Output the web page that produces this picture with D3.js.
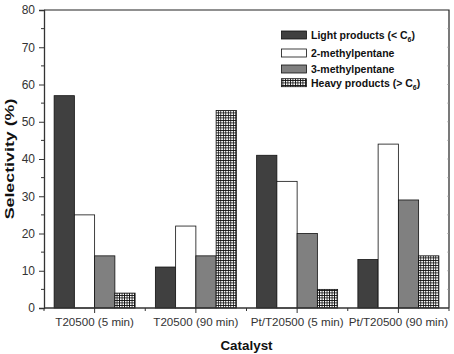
<!DOCTYPE html>
<html>
<head>
<meta charset="utf-8">
<script src="https://cdn.jsdelivr.net/npm/d3@7"></script>
<style>
  body { margin: 0; background: #fff; }
  text { font-family: "Liberation Sans", Arial, sans-serif; }
</style>
</head>
<body>
<div id="chart"></div>
<script>
// data
const catalysts = ['T20500 (5 min)', 'T20500 (90 min)', 'Pt/T20500 (5 min)', 'Pt/T20500 (90 min)'];
const seriesNames = ['light', 'mp2', 'mp3', 'heavy'];
const lightProducts = [57, 11, 41, 13];
const methylpentane2 = [25, 22, 34, 44];
const methylpentane3 = [14, 14, 20, 29];
const heavyProducts = [4, 53, 5, 14];
const yTicks = [0, 10, 20, 30, 40, 50, 60, 70, 80];

const seriesValues = [lightProducts, methylpentane2, methylpentane3, heavyProducts];

const w = 454;
const h = 354;
const margin = { top: 10, right: 5, bottom: 46, left: 44 };

const svg = d3.select('#chart')
  .append('svg')
  .attr('width', w)
  .attr('height', h);

// crosshatch pattern for heavy products
const defs = svg.append('defs');
const pat = defs.append('pattern')
  .attr('id', 'hatch')
  .attr('patternUnits', 'userSpaceOnUse')
  .attr('width', 2.5)
  .attr('height', 2.5);
pat.append('rect').attr('width', 2.5).attr('height', 2.5).attr('fill', '#fff');
pat.append('path')
  .attr('d', 'M0,0.4H2.5M0.4,0V2.5')
  .attr('stroke', '#111')
  .attr('stroke-width', 0.9);

const fills = ['#404040', '#ffffff', '#808080', 'url(#hatch)'];

const x0 = d3.scaleBand()
  .domain(catalysts)
  .range([margin.left, w - margin.right])
  .paddingInner(0.2)
  .paddingOuter(0.1);

const x1 = d3.scaleBand()
  .domain(seriesNames)
  .range([0, x0.bandwidth()]);

const y = d3.scaleLinear()
  .domain([0, 80])
  .range([h - margin.bottom, margin.top]);

// bars
const groups = svg.selectAll('g.group')
  .data(catalysts)
  .enter()
  .append('g')
  .attr('class', 'group')
  .attr('transform', d => 'translate(' + x0(d) + ',0)');

groups.selectAll('rect')
  .data((d, i) => seriesNames.map((s, j) => ({ s: s, v: seriesValues[j][i], j: j })))
  .enter()
  .append('rect')
  .attr('x', d => x1(d.s))
  .attr('y', d => y(d.v))
  .attr('width', x1.bandwidth())
  .attr('height', d => y(0) - y(d.v))
  .attr('fill', d => fills[d.j])
  .attr('stroke', '#111')
  .attr('stroke-width', 0.8);

// frame (top and right)
const plotLeft = margin.left;
const plotRight = w - margin.right;
const plotTop = margin.top;
const plotBottom = h - margin.bottom;

svg.append('path')
  .attr('d', 'M' + plotLeft + ',' + plotTop + 'H' + plotRight + 'V' + plotBottom)
  .attr('fill', 'none')
  .attr('stroke', '#222')
  .attr('stroke-width', 1.2);

// y axis
const yAxis = d3.axisLeft(y)
  .tickValues(yTicks)
  .tickSize(5)
  .tickPadding(4)
  .tickFormat(d3.format('d'));

const gy = svg.append('g')
  .attr('transform', 'translate(' + plotLeft + ',0)')
  .call(yAxis);
gy.select('.domain').attr('stroke', '#333').attr('stroke-width', 1.3);
gy.selectAll('.tick line').attr('stroke', '#333');
gy.selectAll('.tick text').attr('font-size', 12).attr('fill', '#333')
  .style('font-family', '"Liberation Sans", Arial, sans-serif');

// minor y ticks
svg.selectAll('line.yminor')
  .data(d3.range(5, 80, 10))
  .enter()
  .append('line')
  .attr('x1', plotLeft - 3)
  .attr('x2', plotLeft)
  .attr('y1', d => y(d))
  .attr('y2', d => y(d))
  .attr('stroke', '#333');

// faint inner ticks on right
svg.selectAll('line.yright')
  .data(d3.range(5, 80, 5))
  .enter()
  .append('line')
  .attr('x1', plotRight - 2)
  .attr('x2', plotRight)
  .attr('y1', d => y(d))
  .attr('y2', d => y(d))
  .attr('stroke', '#999')
  .attr('stroke-width', 0.6);

// x axis
const xAxis = d3.axisBottom(x0)
  .tickSize(5)
  .tickPadding(5);

const gx = svg.append('g')
  .attr('transform', 'translate(0,' + plotBottom + ')')
  .call(xAxis);
gx.select('.domain').attr('stroke', '#333').attr('stroke-width', 1.3)
  .attr('d', 'M' + plotLeft + ',0H' + plotRight);
gx.selectAll('.tick line').attr('stroke', '#333');
gx.selectAll('.tick text').attr('font-size', 11.6).attr('fill', '#333')
  .style('font-family', '"Liberation Sans", Arial, sans-serif');

// category boundary ticks
const step = x0.step();
const bounds = catalysts.map(c => x0(c) + x0.bandwidth() / 2 - step / 2);
bounds.push(plotRight);
svg.selectAll('line.xminor')
  .data(bounds)
  .enter()
  .append('line')
  .attr('x1', d => d)
  .attr('x2', d => d)
  .attr('y1', plotBottom)
  .attr('y2', plotBottom + 3)
  .attr('stroke', '#333');

// axis titles
svg.append('text')
  .attr('x', (plotLeft + plotRight) / 2)
  .attr('y', 349.5)
  .attr('text-anchor', 'middle')
  .attr('font-size', 13.4)
  .attr('font-weight', 'bold')
  .attr('fill', '#111')
  .text('Catalyst');

svg.append('text')
  .attr('transform', 'translate(14,' + (plotTop + plotBottom) / 2 + ') rotate(-90) scale(1.33,1)')
  .attr('text-anchor', 'middle')
  .attr('font-size', 13.4)
  .attr('font-weight', 'bold')
  .attr('fill', '#111')
  .text('Selectivity (%)');

// legend
const legendRows = [
  { label: 'Light products (< C', sub: '6', tail: ')', y: 35 },
  { label: '2-methylpentane', y: 53 },
  { label: '3-methylpentane', y: 69 },
  { label: 'Heavy products (> C', sub: '6', tail: ')', y: 82.7 }
];

const legend = svg.append('g');
legendRows.forEach((r, i) => {
  legend.append('rect')
    .attr('x', 281.5)
    .attr('y', r.y - 4)
    .attr('width', 25)
    .attr('height', 8)
    .attr('fill', fills[i])
    .attr('stroke', '#111')
    .attr('stroke-width', 0.8);
  const t = legend.append('text')
    .attr('x', 311)
    .attr('y', r.y + 4)
    .attr('font-size', 10.5)
    .attr('font-weight', 'bold')
    .attr('fill', '#111');
  t.append('tspan').text(r.label);
  if (r.sub) {
    t.append('tspan').attr('font-size', 7).attr('dy', 3).text(r.sub);
    t.append('tspan').attr('dy', -3).text(r.tail);
  }
});
</script>
</body>
</html>
